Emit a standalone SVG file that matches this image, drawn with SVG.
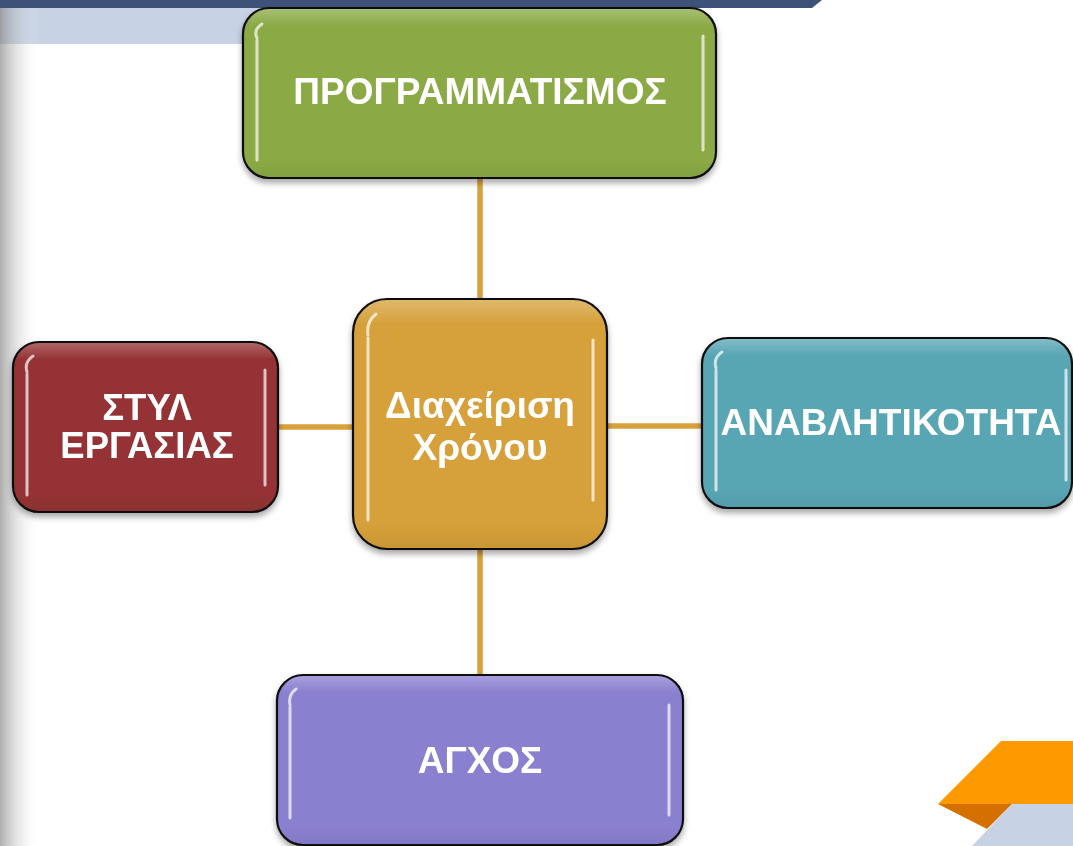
<svg xmlns="http://www.w3.org/2000/svg" width="1073" height="846" viewBox="0 0 1073 846">
<defs>
<style>
.node{stroke:#111;stroke-width:2.2}
.lbl{font-family:"Liberation Sans",Arial,sans-serif;font-weight:bold;fill:#fff;text-anchor:middle}
.conn{stroke:#D9A13A;stroke-width:5.5;fill:none}
.hl{fill:none;stroke:#fff;stroke-width:3;stroke-linecap:round;opacity:0.7}
</style>
<linearGradient id="leftShade" x1="0" y1="0" x2="1" y2="0">
<stop offset="0" stop-color="#8a8a8a" stop-opacity="0.7"/>
<stop offset="0.5" stop-color="#bdbdbd" stop-opacity="0.3"/>
<stop offset="1" stop-color="#ffffff" stop-opacity="0"/>
</linearGradient>
<linearGradient id="gloss" x1="0" y1="0" x2="0" y2="1">
<stop offset="0" stop-color="#fff" stop-opacity="0.25"/>
<stop offset="0.1" stop-color="#fff" stop-opacity="0"/>
<stop offset="0.9" stop-color="#000" stop-opacity="0"/>
<stop offset="1" stop-color="#000" stop-opacity="0.06"/>
</linearGradient>
<filter id="sh" x="-10%" y="-10%" width="120%" height="130%">
<feGaussianBlur in="SourceAlpha" stdDeviation="3"/>
<feOffset dx="0" dy="4" result="b"/>
<feComponentTransfer><feFuncA type="linear" slope="0.35"/></feComponentTransfer>
<feMerge><feMergeNode/><feMergeNode in="SourceGraphic"/></feMerge>
</filter>
</defs>

<g id="background">
<rect x="0" y="0" width="1073" height="846" fill="#fff"/>
<rect x="0" y="8" width="480" height="36" fill="#C7D3E5"/>
<polygon points="0,0 822,0 812,8 0,8" fill="#3E5179"/>
<rect x="0" y="8" width="40" height="838" fill="url(#leftShade)"/>
<polygon points="1001,741 1073,741 1073,804 938,804" fill="#FF9900"/>
<polygon points="938,804 1012,804 987,829" fill="#D46F00"/>
<polygon points="1012,804 1073,804 1073,846 972,846" fill="#C7D3E5"/>
</g>

<g id="connectors">
<line class="conn" x1="480" y1="178" x2="480" y2="300"/>
<line class="conn" x1="480" y1="549" x2="480" y2="676"/>
<line class="conn" x1="278" y1="427" x2="354" y2="427"/>
<line class="conn" x1="606" y1="426" x2="703" y2="426"/>
</g>

<g id="node-programmatismos" filter="url(#sh)">
<rect class="node" x="243" y="8" width="473" height="170" rx="26" fill="#8BAA45"/>
<rect x="244" y="9" width="471" height="168" rx="25" fill="url(#gloss)"/>
<path class="hl" d="M257 38 Q253 30 262 24 M257 40 L257 160 M703 36 L703 150"/>
<text class="lbl" x="480" y="104" font-size="37">ΠΡΟΓΡΑΜΜΑΤΙΣΜΟΣ</text>
</g>

<g id="node-center" filter="url(#sh)">
<rect class="node" x="353" y="299" width="254" height="250" rx="34" fill="#D6A03A"/>
<rect x="354" y="300" width="252" height="248" rx="33" fill="url(#gloss)"/>
<path class="hl" d="M368 335 Q366 322 376 314 M368 338 L368 520 M593 340 L593 500"/>
<text class="lbl" x="480" y="418" font-size="37">Διαχείριση</text>
<text class="lbl" x="480" y="460" font-size="37">Χρόνου</text>
</g>

<g id="node-styl" filter="url(#sh)">
<rect class="node" x="13" y="342" width="265" height="170" rx="26" fill="#943234"/>
<rect x="14" y="343" width="263" height="168" rx="25" fill="url(#gloss)"/>
<path class="hl" d="M27 372 Q24 362 33 356 M27 374 L27 495 M265 370 L265 485"/>
<text class="lbl" x="147" y="420" font-size="36.5">ΣΤΥΛ</text>
<text class="lbl" x="147" y="458" font-size="36.5">ΕΡΓΑΣΙΑΣ</text>
</g>

<g id="node-anavlitikotita" filter="url(#sh)">
<rect class="node" x="702" y="338" width="370" height="170" rx="26" fill="#58A5B4"/>
<rect x="703" y="339" width="368" height="168" rx="25" fill="url(#gloss)"/>
<path class="hl" d="M716 368 Q713 358 722 352 M716 370 L716 490 M1066 370 L1066 480"/>
<text class="lbl" x="891" y="435" font-size="37">ΑΝΑΒΛΗΤΙΚΟΤΗΤΑ</text>
</g>

<g id="node-agxos" filter="url(#sh)">
<rect class="node" x="277" y="675" width="406" height="170" rx="26" fill="#8A80D0"/>
<rect x="278" y="676" width="404" height="168" rx="25" fill="url(#gloss)"/>
<path class="hl" d="M290 705 Q288 695 296 689 M290 707 L290 818 M669 705 L669 815"/>
<text class="lbl" x="480" y="773" font-size="37">ΑΓΧΟΣ</text>
</g>
</svg>
